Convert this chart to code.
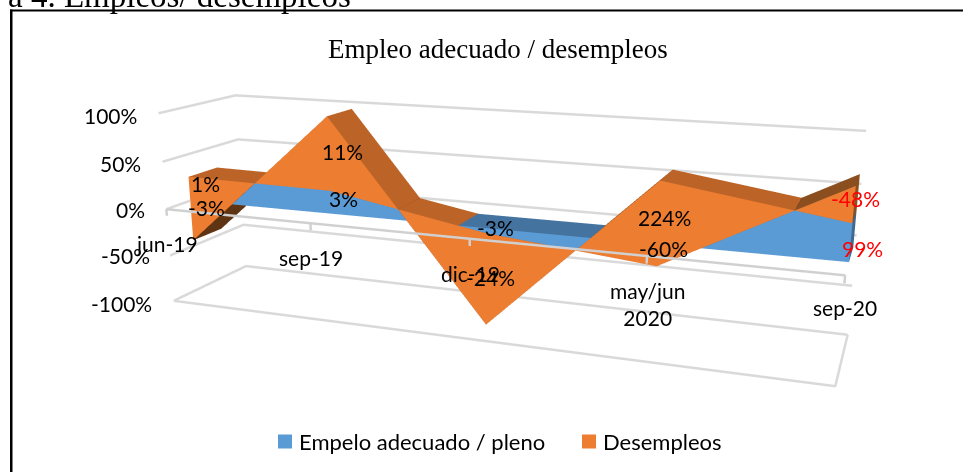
import numpy as np, plotly.graph_objects as go

categories = ["jun-19", "sep-19", "dic-19", "may/jun<br>2020", "sep-20"]
empleo = [26, 24, -5, -21, 68]
desempleo = [-70, 76, -94, 81, -33]
labels_empleo = ["-3%", "3%", "-3%", "-60%", "99%"]
labels_desempleo = ["1%", "11%", "-24%", "224%", "-48%"]
value_ticks = [-100, -50, 0, 50, 100]
value_labels = ["-100%", "-50%", "0%", "50%", "100%"]

BLUE, ORANGE = "#5B9BD5", "#ED7D31"
GRID = "#D9D9D9"
FONT = "Lato"
W, H, SHIFT = 987, 955, 213.5
EYE = (1.9477, -5.2118, 1.3915); CTR = (0.0468, -0.1599, -0.1733); ROLL = 0.0022; SX, SY = 3.3934, 0.7045
Y0, Y1 = 0.30, 0.68
PAD = 0.01  # share of each axis added on both sides so the walls are not clipped

def px(x, y):
    return x / W, 1 - (y + SHIFT) / H

xc = list(range(len(categories)))

def ribbon(lo, hi, y0, y1, front, top_fall, top_rise, bottom=None, cap=None, top_only_neg=False):
    vx, vy, vz, I, J, K, C = [], [], [], [], [], [], []
    def quad(a, b, c, d, col):
        n = len(vx)
        for p in (a, b, c, d):
            vx.append(p[0]); vy.append(p[1]); vz.append(p[2])
        I.extend([n, n]); J.extend([n + 1, n + 2]); K.extend([n + 2, n + 3]); C.extend([col, col])
    for i in range(len(xc) - 1):
        xa, xb = xc[i], xc[i + 1]
        la, lb, ha, hb = lo[i], lo[i + 1], hi[i], hi[i + 1]
        da, db = ha - la, hb - lb
        brk = [0.0, 1.0]
        if da * db < 0:
            brk = [0.0, da / (da - db), 1.0]
        for s0, s1 in zip(brk[:-1], brk[1:]):
            x0, x1 = xa + (xb - xa) * s0, xa + (xb - xa) * s1
            l0, l1 = la + (lb - la) * s0, la + (lb - la) * s1
            h0, h1 = ha + (hb - ha) * s0, ha + (hb - ha) * s1
            quad((x0, y0, l0), (x1, y0, l1), (x1, y0, h1), (x0, y0, h0), front)
            u0, u1, d0, d1 = max(l0, h0), max(l1, h1), min(l0, h0), min(l1, h1)
            if (not top_only_neg) or (h0 + h1) / 2 < (l0 + l1) / 2:
                quad((x0, y0, u0), (x1, y0, u1), (x1, y1, u1), (x0, y1, u0), top_rise if u1 > u0 else top_fall)
            if bottom:
                quad((x0, y0, d0), (x1, y0, d1), (x1, y1, d1), (x0, y1, d0), bottom)
    if cap:
        x = xc[-1]
        quad((x, y0, lo[-1]), (x, y1, lo[-1]), (x, y1, hi[-1]), (x, y0, hi[-1]), cap)
    return dict(x=vx, y=vy, z=vz, i=I, j=J, k=K, facecolor=C)

e = np.array(empleo, float); d = e + np.array(desempleo, float)
NOL = dict(ambient=1, diffuse=0, specular=0, fresnel=0, roughness=1)
fig = go.Figure()
fig.add_trace(go.Mesh3d(name="Empelo adecuado / pleno", flatshading=True, lighting=NOL, hoverinfo="skip",
    **ribbon([0] * 5, list(e), Y0 + 0.004, Y1 - 0.004, BLUE, "#44739F", "#44739F", top_only_neg=True)))
fig.add_trace(go.Mesh3d(name="Desempleos", flatshading=True, lighting=NOL, hoverinfo="skip",
    **ribbon(list(e), list(d), Y0, Y1, ORANGE, "#BC6427", "#8B4E1E", bottom="#5F3412", cap="#8B4E1E")))
n = xc[-1]
fig.add_trace(go.Mesh3d(x=[n, n, n, n], y=[Y0 + .004, Y1 - .004, Y1 - .004, Y0 + .004], z=[0, 0, d[-1], d[-1]],
    i=[0, 0], j=[1, 2], k=[2, 3], facecolor=["#3F6A93"] * 2, flatshading=True, lighting=NOL, hoverinfo="skip"))

gx, gy, gz = [], [], []
def seg(*pts):
    for p in pts:
        gx.append(p[0]); gy.append(p[1]); gz.append(p[2])
    gx.append(None); gy.append(None); gz.append(None)
for v in value_ticks:
    seg((0, 0, v), (0, 1, v), (4, 1, v))
seg((0, 0, -100), (4, 0, -100), (4, 1, -100))
fig.add_trace(go.Scatter3d(x=gx, y=gy, z=gz, mode="lines", line=dict(color=GRID, width=5), hoverinfo="skip"))
ax, ay, az = [0, 4, None], [0, 0, None], [0, 0, None]
for c in xc:
    ax += [c, c, None]; ay += [0, 0, None]; az += [0, -7, None]
fig.add_trace(go.Scatter3d(x=ax, y=ay, z=az, mode="lines", line=dict(color="#D0D0D0", width=5), hoverinfo="skip"))

ann = []
def T(x, y, t, size=21, col="black", fam=FONT, xa="center"):
    a, b = px(x, y)
    ann.append(dict(xref="paper", yref="paper", x=a, y=b, text=t, showarrow=False, xanchor=xa, yanchor="middle",
                    font=dict(family=fam, size=size, color=col)))
for v, (x, y) in zip(value_labels, [(121, 303), (125, 255), (130, 209), (120, 163), (110, 115)]):
    T(x, y, v)
for c, (x, y) in zip(categories, [(167, 243), (311, 257), (470, 273), (647, 303), (845, 307)]):
    T(x, y, c)
for t, (x, y) in zip(labels_empleo[:4], [(206, 207), (343, 198), (495, 227), (663, 248)]):
    T(x, y, t)
T(862, 248, labels_empleo[4], col="#FF0000")
for t, (x, y) in zip(labels_desempleo[:4], [(205, 183), (342, 151), (490, 277), (664, 217)]):
    T(x, y, t)
T(855, 198, labels_desempleo[4], col="#FF0000")
T(498, 48, "Empleo adecuado / desempleos", size=27, fam="Liberation Serif")
T(6, -5, "a 4. Empleos/ desempleos", size=33, fam="Liberation Serif", xa="left")
T(297, 441, "Empelo adecuado / pleno", size=22, xa="left")
T(601, 441, "Desempleos", size=22, xa="left")

shapes = []
def rect(x0, y0, x1, y1, col):
    a, b = px(x0, y0); c, d_ = px(x1, y1)
    shapes.append(dict(type="rect", xref="paper", yref="paper", x0=a, y0=b, x1=c, y1=d_, fillcolor=col, line=dict(width=0)))
rect(278, 434, 292, 448, BLUE)
rect(582, 434, 596, 448, ORANGE)
rect(10, 9, 987, 11, "black")
rect(10, 9, 12.5, 472, "black")

k = 1 + 2 * PAD
fig.update_layout(width=W, height=H, margin=dict(l=0, r=0, t=0, b=0), showlegend=False, paper_bgcolor="white",
    annotations=ann, shapes=shapes,
    scene=dict(domain=dict(x=[0, 1], y=[0, 1]), aspectmode="manual", aspectratio=dict(x=SX * k, y=SY * k, z=k),
        xaxis=dict(range=[-4 * PAD, 4 + 4 * PAD], visible=False),
        yaxis=dict(range=[-PAD, 1 + PAD], visible=False),
        zaxis=dict(range=[-100 - 200 * PAD, 100 + 200 * PAD], visible=False),
        camera=dict(eye=dict(x=EYE[0], y=EYE[1], z=EYE[2]), center=dict(x=CTR[0], y=CTR[1], z=CTR[2]),
                    up=dict(x=float(np.sin(ROLL)), y=0, z=float(np.cos(ROLL))))))
post = ("document.body.style.margin='0';document.documentElement.style.overflow='hidden';document.body.style.overflow='hidden';"
        "document.getElementById('{plot_id}').style.marginTop='-%gpx';" % SHIFT)
fig.write_html("out.html", post_script=post)
